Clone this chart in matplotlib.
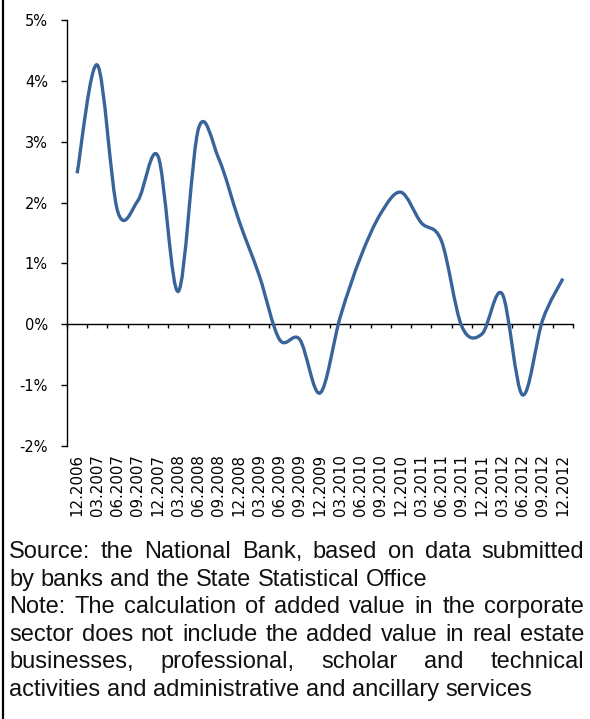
import matplotlib as mpl
mpl.use("Agg")
import matplotlib.pyplot as plt
import numpy as np
from matplotlib.path import Path
from matplotlib.patches import PathPatch
from matplotlib.lines import Line2D
from matplotlib.ticker import FixedLocator, FuncFormatter

W, H, DPI = 590, 719, 100
LINE = "#38649A"

quarters = ["12.2006", "03.2007", "06.2007", "09.2007", "12.2007", "03.2008", "06.2008",
            "09.2008", "12.2008", "03.2009", "06.2009", "09.2009", "12.2009", "03.2010",
            "06.2010", "09.2010", "12.2010", "03.2011", "06.2011", "09.2011", "12.2011",
            "03.2012", "06.2012", "09.2012", "12.2012"]
growth = [2.48, 4.26, 1.86, 2.03, 2.76, 0.54, 3.22, 2.72, 1.70, 0.80, -0.25, -0.25, -1.13,
          0.12, 1.10, 1.82, 2.17, 1.67, 1.37, -0.03, -0.16, 0.50, -1.16, 0.07, 0.75]
y_ticks = [-2, -1, 0, 1, 2, 3, 4, 5]

source_lines = ["Source: the National Bank, based on data submitted",
                "by banks and the State Statistical Office"]
note_lines = ["Note: The calculation of added value in the corporate",
              "sector does not include the added value in real estate",
              "businesses, professional, scholar and technical",
              "activities and administrative and ancillary services"]


def smooth_path(x, y):
    """Excel-style smoothed line: cubic Bezier through the points (Catmull-Rom, 1/6)."""
    p = np.column_stack([x, y]).astype(float)
    ext = np.vstack([p[0], p, p[-1]])
    verts, codes = [p[0]], [Path.MOVETO]
    for i in range(len(p) - 1):
        p0, p1, p2, p3 = ext[i], ext[i + 1], ext[i + 2], ext[i + 3]
        verts += [p1 + (p2 - p0) / 6, p2 - (p3 - p1) / 6, p2]
        codes += [Path.CURVE4] * 3
    return Path(verts, codes)


fig = plt.figure(figsize=(W / DPI, H / DPI), dpi=DPI)
ax = fig.add_axes([67 / W, 1 - 446 / H, (573 - 67) / W, (446 - 20) / H])

x = np.arange(len(quarters))
ax.add_patch(PathPatch(smooth_path(x, growth), fill=False, edgecolor=LINE, lw=2.4,
                       capstyle="butt", joinstyle="round", zorder=3))
ax.set_xlim(-0.5, len(quarters) - 0.5)
ax.set_ylim(-2, 5)

ax.spines[["top", "right"]].set_visible(False)
ax.spines["bottom"].set_position(("data", 0))
ax.spines["left"].set_linewidth(1.0)
ax.spines["bottom"].set_linewidth(1.0)
ax.set_yticks(y_ticks)
ax.yaxis.set_major_formatter(FuncFormatter(lambda v, _: f"{v:.0f}%"))
ax.tick_params(axis="y", direction="out", length=4.3, width=1, pad=9.5, labelsize=10.5)
ax.xaxis.set_major_locator(FixedLocator(np.arange(-0.5, len(quarters), 1.0)))
ax.tick_params(axis="x", direction="out", length=3, width=1, labelbottom=False)

sec = ax.secondary_xaxis("bottom")
sec.set_xticks(x)
sec.set_xticklabels(quarters, rotation=90, fontsize=10.8)
sec.tick_params(length=0, pad=6)
sec.spines["bottom"].set_visible(False)

fig.add_artist(Line2D([2.5 / W, 2.5 / W], [0, 1], transform=fig.transFigure,
                      color="black", lw=1.6))

# justified footnote text
FONT = dict(family="Liberation Sans", fontsize=17, color="#111111")
left, right = 9, 584
y0, step = 552, 27.6
renderer = fig.canvas.get_renderer()


def put_line(words, ypix, justify):
    arts = [fig.text(0, 1 - ypix / H, w, va="center", ha="left", **FONT) for w in words]
    widths = [a.get_window_extent(renderer).width for a in arts]
    if justify and len(words) > 1:
        gap = (right - left - sum(widths)) / (len(words) - 1)
    else:
        sp = fig.text(0, 0, "a a", **FONT)
        sp2 = fig.text(0, 0, "aa", **FONT)
        gap = sp.get_window_extent(renderer).width - sp2.get_window_extent(renderer).width
        sp.remove(); sp2.remove()
    xp = left
    for a, w in zip(arts, widths):
        a.set_x(xp / W)
        xp += w + gap


row = 0
for para in (source_lines, note_lines):
    for j, line in enumerate(para):
        put_line(line.split(), y0 + row * step, justify=j < len(para) - 1)
        row += 1

fig.savefig("out.png", dpi=DPI, facecolor="white")
